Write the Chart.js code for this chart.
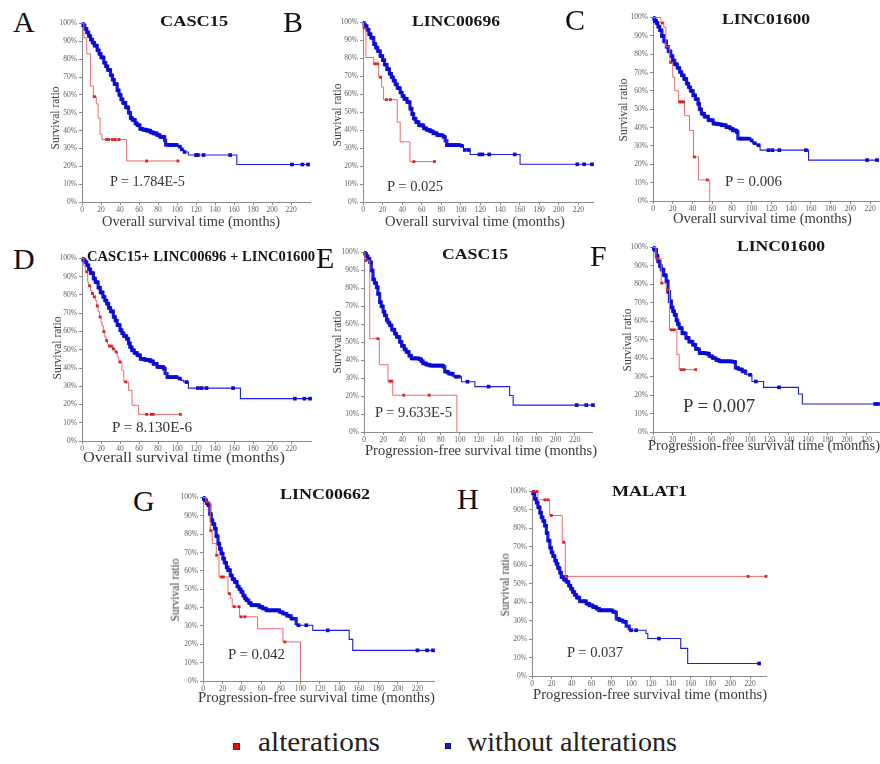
<!DOCTYPE html>
<html><head><meta charset="utf-8">
<script src="https://cdn.jsdelivr.net/npm/chart.js@4.4.0/dist/chart.umd.min.js"></script>
<style>
html,body{margin:0;padding:0;background:#fff;}
#wrap{position:relative;width:880px;height:764px;overflow:hidden;background:#fff;}
canvas{position:absolute;}
.t{position:absolute;white-space:nowrap;line-height:1;font-family:"Liberation Serif","Times New Roman",serif;}
.sq{position:absolute;}
</style></head><body><div id="wrap"></div>
<script>
// ---------------- DATA ----------------
const xTickValues = [0,20,40,60,80,100,120,140,160,180,200,220];
const yTickValues = [0,10,20,30,40,50,60,70,80,90,100];

const panelLetters = ['A','B','C','D','E','F','G','H'];
const geneTitles = ['CASC15','LINC00696','LINC01600','CASC15+ LINC00696 + LINC01600','CASC15','LINC01600','LINC00662','MALAT1'];
const pValues = ['P = 1.784E-5','P = 0.025','P = 0.006','P = 8.130E-6','P = 9.633E-5','P = 0.007','P = 0.042','P = 0.037'];
const xTitles = ['Overall survival time (months)','Overall survival time (months)','Overall survival time (months)','Overall survival time (months)',
  'Progression-free survival time (months)','Progression-free survival time (months)','Progression-free survival time (months)','Progression-free survival time (months)'];
const yTitle = 'Survival ratio';
const legendLabels = ['alterations','without alterations'];

// step points [months, survival %] and censor times (months)
const A_alt = [[2,92],[5,83],[9,65],[12,59],[15,55],[17,47],[19,38],[21,35],[47,23]];
const A_altCens = [13,26,28,32,35,39,68,101];
const A_wo = [[1,99],[3,97],[5,95],[7,93],[9,91],[11,89.3],[13,87.6],[16,85],[18,83],[20,81],[23,78],[25,76],[27,74],[30,71],[32,68.5],[34,66],[37,62.5],[39,60],[41,57.5],[43,55.5],[46,53],[49,50],[51,47],[53,46],[56,44],[58,43],[61,41],[64,40.5],[68,40],[72,39],[75,38.4],[79,37.5],[82,36.5],[87,34.5],[88,32],[100,31],[104,29.5],[107,28],[112,26.3],[163,21]];
const A_woCens = [2,4,6,8,10,12,14,15,17,19,21,22,24,26,28,29,31,33,35,36,38,40,42,44,45,47,48,50,52,54,55,57,59,60,62,63,65,66,67,69,70,71,73,74,76,77,78,80,81,83,85,86,90,92,94,97,99,103,105,108,120,122,128,156,221,232,238];

const B_alt = [[0.5,97],[3,80.5],[11,77],[16,69.5],[19,64],[21,57],[35,44.5],[38,33.5],[48,22.5]];
const B_altCens = [1,12,15,18,24,28,52,73];
const B_wo = [[1,99],[2,98],[4,96],[6,93.5],[8,91.5],[11,88],[13,86],[15,84],[17.7,81.4],[20,79],[22,76.5],[24.5,74],[27,71.5],[29,69.5],[31,67.6],[33,65.5],[35,63.5],[38,61],[40,59],[42,57.5],[45,55.6],[48,52],[50,49],[51.7,46.4],[54,44.5],[57,42.7],[62,41],[65,40.2],[68.7,39.4],[72,38.3],[75.5,37.2],[82,36.3],[84,34],[85.7,31.7],[99,31.3],[102.7,29],[109.5,26.5],[160.5,21]];
const B_woCens = [2,3,5,7,9,10,12,14,16,18,19,21,23,25,26,28,30,32,34,36,37,39,41,43,44,46,47,49,51,53,55,56,58,60,61,63,64,66,67,69,70,72,73,75,77,79,80,83,86,88,90,92,94,96,98,101,104,108,119,122,129,155,219,226,234];

const C_alt = [[8,97],[11,94.5],[13,84],[17,75.5],[20,67.5],[22,60],[26,54],[32,46.5],[37,38.5],[41,24],[46,11.5],[57.5,0]];
const C_altCens = [9.5,18,27,29,31,42,55];
const C_wo = [[1,99],[2,98],[3.4,97],[5,95],[6.8,93],[9,90],[11,87],[13.6,84],[15.5,81.5],[18,79],[20,76.6],[22,74.5],[24.5,72.5],[27,70.3],[29,68.5],[31.5,66.5],[34,64],[36,62],[38,60],[40.7,57.6],[43,55.5],[45.8,53],[47,50],[49,47.6],[52,46],[56,44],[61,42.2],[65,41.8],[69.5,41.3],[74,40.3],[78,39.5],[81,38.5],[84.7,37.7],[86,34],[98,33],[101,31.5],[105,30.4],[108.5,27.7],[157.6,22.3]];
const C_woCens = [2,3,4,6,8,9,10,12,13,15,17,19,20,22,24,26,28,30,32,33,35,37,39,41,42,44,46,48,50,51,53,55,57,59,60,62,64,66,68,70,71,73,75,77,79,81,83,85,88,90,93,96,100,103,107,117,121,128,155,217,227];

const D_alt = [[2,96],[3.5,92.7],[6,87],[7,85],[9,82.5],[10.5,80.8],[12,79],[14,77],[15.5,74],[17,71],[18.5,68],[20,65],[21,63],[22.5,60],[24,57],[25.5,55],[27,53],[28.5,52],[33,50.5],[35,48.8],[37,46],[38.6,43.3],[42,38.8],[44,32.4],[49,27.8],[52.6,19.6],[59.6,14.6]];
const D_altCens = [5,8,11,13,16,19,23,26,29,31,33,36,40,46,68,73,75,103.5];
const D_wo = [[1,99.2],[3,98],[5,96.3],[7,94],[9,92],[12,89],[14,87],[17,84],[19.3,81.4],[22,79],[24,77],[26,75.3],[28,73],[30,71],[33,68],[35,66],[37,63.5],[40,60.7],[42,59],[44,57.5],[47,56],[49,53.5],[50.5,51.5],[52.6,49.7],[55,48.3],[58,47],[61.4,45],[66,44.5],[72,43.7],[75,42.3],[79,40.6],[86,39.7],[87.5,37],[89.5,35],[100,34.2],[104,33.2],[107,32.3],[112,29],[166.7,23.2]];
const D_woCens = [2,4,6,8,10,11,13,15,16,18,20,21,23,25,27,29,31,32,34,36,38,39,41,43,45,46,48,50,51,53,54,56,57,59,60,62,64,65,67,69,70,72,74,76,78,80,82,84,86,91,94,97,99,103,110,122,126,131,159,224,234,240];

const E_alt = [[1,95.5],[6,52],[16,37.5],[25,28.3],[30,20.5],[97,0]];
const E_altCens = [2,14.5,27,29,41.5,68];
const E_wo = [[1,99.3],[2.4,98],[4,96.5],[6,94.5],[7.5,90],[9.4,85],[11,83],[13,80.6],[14.5,77],[16.4,72.3],[18,70],[20,67],[21.6,65],[23.5,62.5],[25,61],[26.8,59.4],[29,57],[32,54.8],[34,53],[37.3,50.2],[39.5,48],[42,46],[44,44.6],[47,42.5],[49.5,41],[58,40.6],[60,39.5],[61.7,38.2],[65,37.5],[68.6,37],[82.6,36.3],[84.3,33.6],[88,32.5],[93,30.8],[101.7,28],[115.7,25.3],[152,20.3],[155.7,15]];
const E_woCens = [1.5,3,5,7,8,10,12,14,15,17,19,21,22,24,26,28,30,31,33,35,36,38,40,41,43,45,46,48,50,52,54,56,58,60,62,64,66,68,70,72,74,76,78,80,82,86,90,92,96,99,108,130,222,232,239];

const F_alt = [[3,94],[8.5,80.7],[13.6,77],[17,55.4],[24.6,42],[27,33.8]];
const F_altCens = [4,9,15,19,22,29,32,44];
const F_wo = [[1,99.3],[1.7,98.7],[3.5,95.5],[5,92.4],[7,90],[8.5,88],[11,85],[13.6,81.6],[15.5,76],[17,70.8],[19,67.5],[20.5,65.5],[22,63.5],[24,60.5],[25.5,58.5],[27,56.3],[30,53.5],[34,51],[37,49],[41,47.3],[44,45],[47.8,42.8],[54.6,42.5],[58,41],[61.4,40],[65,39],[68.3,38.3],[82,38],[85,34.7],[88,34],[92,32.9],[95.6,31],[102,27.4],[114,24.2],[150,20.6],[154,15.2]];
const F_woCens = [1,2.5,4,6,7.5,9.5,10.5,12,14.5,16,18,19.5,21,23,24.5,26,28,29,31,32.5,35,36,38,39.5,42,43,45,46,49,51,53,56,57,60,63,66,67,70,72,74,76,78,80,84,87,90,94,100,106,130,229,232];

const G_alt = [[3,97.6],[7.5,82],[9.5,75],[13.6,68.5],[16.4,56.7],[25.6,47.6],[28,45],[30,40.5],[37.5,35],[56,28.5],[82,21.3],[100,0]];
const G_altCens = [4,8,14,19,21,27,32,37,39,43,84];
const G_wo = [[1,99.3],[1.7,98.5],[3.5,97],[5,95.8],[7,91],[8.5,87.6],[10,85.5],[12,83],[13.5,79],[15.4,74.9],[17,72],[18.5,69.5],[20.5,66.7],[22,64.5],[24,62],[25.6,60.4],[28,57.5],[30,55.5],[32.4,54],[35,51.5],[37,50],[39,48.5],[41,46.5],[43,45],[44.4,44],[47,42.5],[49.5,41.3],[58,40.4],[61,39.5],[64.8,38.5],[78.5,37.6],[82,36.7],[86,35.5],[90.4,34],[95.6,30.4],[112.6,27.6],[150,22.7],[153.6,16.7]];
const G_woCens = [1,2.5,4,6,7.5,9,11,12.5,14,16,18,19.5,21,23,24.5,26,27,29,31,33,34,36,38,40,42,43.5,45,46,48,50,52,54,56,58,60,62,64,66,68,70,72,74,76,78,80,84,88,92,98,106,128,220,230,236];

const H_alt = [[6,95.5],[17.8,87],[30.5,72.5],[33.6,54]];
const H_altCens = [2,5,13,16,19.5,32,35,218,236];
const H_wo = [[1,99],[2.7,96],[4.5,94],[6,91.4],[8,88.5],[9.4,86],[11,84],[12.8,81.5],[14.5,77.5],[16,73.4],[18,69.5],[19.5,67],[21,65],[23,62.5],[24.5,60.8],[26,58.5],[28,56],[29.5,53.6],[32,52.2],[34.6,51],[37,49],[39,47.3],[41,45.5],[43,44],[45,42.5],[48,40.5],[54.7,39.2],[58,38.3],[61.4,37.4],[65,36.5],[68,35.6],[81.5,34.7],[85,31],[88,30.2],[91.6,29.3],[95,27],[98,24.8],[115,23],[116.8,20.3],[150,15],[157,6.8]];
const H_woCens = [1.5,3.5,5,7,8.5,10,12,13.5,15,17,19,20,22,24,25.5,27,29,30.5,31.5,33,36,38,40,42,44,46,47,50,52,54,56,58,60,62,64,66,68,70,72,74,76,78,80,83,87,90,94,100,105,128,229];

// ---------------- LAYOUT (positions / styles) ----------------
const panels = [
  {alt:A_alt, altC:A_altCens, wo:A_wo, woC:A_woCens, left:81.7, top:22.7, bottom:202.3, right:309.7, xmax:240, band:100},
  {alt:B_alt, altC:B_altCens, wo:B_wo, woC:B_woCens, left:362.7, top:21.7, bottom:202.3, right:593, xmax:235, band:102},
  {alt:C_alt, altC:C_altCens, wo:C_wo, woC:C_woCens, left:653.3, top:16.7, bottom:201, right:878.6, xmax:229, band:100},
  {alt:D_alt, altC:D_altCens, wo:D_wo, woC:D_woCens, left:81.7, top:258.3, bottom:440.7, right:310.7, xmax:241, band:100},
  {alt:E_alt, altC:E_altCens, wo:E_wo, woC:E_woCens, left:364.3, top:251.7, bottom:432.3, right:592, xmax:238, band:100},
  {alt:F_alt, altC:F_altCens, wo:F_wo, woC:F_woCens, left:653.3, top:247.3, bottom:432.3, right:879.3, xmax:233, band:100},
  {alt:G_alt, altC:G_altCens, wo:G_wo, woC:G_woCens, left:203.3, top:497.3, bottom:680.7, right:434.4, xmax:237, band:98},
  {alt:H_alt, altC:H_altCens, wo:H_wo, woC:H_woCens, left:532.3, top:490.7, bottom:676, right:766, xmax:236, band:100}
];
// text placement: [x, baseline, size, width]
const letterPos = [[13,32],[283,32],[565,30],[13,269],[316,268],[590,266],[133,511],[457,509]];
const titlePos = [[160,27,15,68],[412,27,15,88],[722,25,15,88],[87,262,14,228],[442,260,15,66],[737,252,15,88],[280,500,15,90],[612,497,15,75]];
const pPos = [[110,187,15,75],[387,192,15,56],[725,187,15,57],[112,433,15,80],[375,418,15,77],[683,412,19,72],[228,660,15,57],[567,658,15,56]];
const xtPos = [[102,227,14,178],[385,227,14,180],[673,224,14,179],[83,463,14,202],[365,456,14,232],[648,451,14,232],[198,703,14,237],[533,700,14,234]];
const ytPos = [[55,118],[337,115],[623,110],[57,348],[337,342],[627,340],[175,590],[505,585]];

const BLUE_LINE = '#1c1ce8', BLUE_PT = '#0a0ad2', RED_LINE = '#ee6a6a', RED_PT = '#dc2020';
const wrap = document.getElementById('wrap');

function levelAt(steps, t){ let s = 100; for (const [st, sv] of steps) { if (st <= t) s = sv; } return s; }
function curve(steps, cens){
  const end = Math.max(steps[steps.length-1][0], ...cens);
  const pts = [{x:0, y:100}];
  steps.forEach(([t,s]) => pts.push({x:t, y:s}));
  pts.push({x:end, y:steps[steps.length-1][1]});
  return pts;
}
function marks(steps, cens){ return cens.map(t => ({x:t, y:levelAt(steps, t)})); }

const YW = 30, XH = 14, PT = 6, PR = 4;
panels.forEach((p) => {
  const c = document.createElement('canvas');
  const cl = Math.round(p.left - YW), ct = Math.round(p.top - PT);
  const cw = Math.round(p.right) - cl + PR;
  const ch = Math.round(p.bottom) + XH - ct;
  c.width = cw; c.height = ch;
  c.style.left = cl + 'px'; c.style.top = ct + 'px';
  c.style.width = cw + 'px'; c.style.height = ch + 'px';
  wrap.appendChild(c);
  const tickFont = {family:'"Liberation Serif", serif', size:7.5};
  new Chart(c.getContext('2d'), {
    type:'scatter',
    data:{datasets:[
      {data:curve(p.wo,p.woC), showLine:true, stepped:true, borderColor:BLUE_LINE, borderWidth:1.1, pointRadius:0, clip:false, order:4,
        segment:{borderWidth: ctx => (ctx.p1.parsed.x <= p.band ? 3.2 : 1.1)}},
      {data:marks(p.wo,p.woC), showLine:false, pointStyle:'rect', pointRadius:2.6, backgroundColor:BLUE_PT, borderWidth:0, clip:false, order:3},
      {data:curve(p.alt,p.altC), showLine:true, stepped:true, borderColor:RED_LINE, borderWidth:1, pointRadius:0, clip:false, order:2},
      {data:marks(p.alt,p.altC), showLine:false, pointStyle:'rect', pointRadius:2, backgroundColor:RED_PT, borderWidth:0, clip:false, order:1}
    ]},
    options:{
      responsive:false, animation:false, events:[],
      plugins:{legend:{display:false}, tooltip:{enabled:false}},
      layout:{autoPadding:false, padding:{top:PT, right:PR, left:0, bottom:0}},
      scales:{
        x:{type:'linear', min:0, max:p.xmax,
          afterBuildTicks:s=>{ s.ticks = xTickValues.map(v=>({value:v})); },
          afterFit:s=>{ s.height = XH; },
          grid:{drawOnChartArea:false, drawTicks:true, tickLength:3, color:'#8a8a8a'},
          border:{color:'#8a8a8a', width:1},
          ticks:{font:tickFont, color:'#606060', padding:1, maxRotation:0, autoSkip:false}},
        y:{type:'linear', min:0, max:100,
          afterBuildTicks:s=>{ s.ticks = yTickValues.map(v=>({value:v})); },
          afterFit:s=>{ s.width = YW; },
          grid:{drawOnChartArea:false, drawTicks:true, tickLength:3, color:'#8a8a8a'},
          border:{color:'#8a8a8a', width:1},
          ticks:{font:tickFont, color:'#606060', padding:2, autoSkip:false, callback:v=>v+'%'}}
      }
    }
  });
});

function placeText(txt, x, base, size, w, bold, color){
  const d = document.createElement('div');
  d.className = 't'; d.textContent = txt;
  d.style.fontSize = size + 'px';
  d.style.fontWeight = bold ? 'bold' : 'normal';
  d.style.color = color;
  d.style.left = x + 'px';
  d.style.top = (base - 0.8375*size) + 'px';
  wrap.appendChild(d);
  if (w) {
    const m = d.getBoundingClientRect().width;
    d.style.transformOrigin = '0 0';
    d.style.transform = 'scaleX(' + (w/m).toFixed(3) + ')';
  }
}
function placeVText(txt, cx, cy, size, len, color){
  const d = document.createElement('div');
  d.className = 't'; d.textContent = txt;
  d.style.fontSize = size + 'px'; d.style.color = color;
  d.style.left = cx + 'px'; d.style.top = cy + 'px';
  wrap.appendChild(d);
  const m = d.getBoundingClientRect().width;
  d.style.transform = 'translate(-50%,-50%) rotate(-90deg) scaleX(' + (len/m).toFixed(3) + ')';
}

panelLetters.forEach((L,i) => placeText(L, letterPos[i][0], letterPos[i][1], 30, 0, false, '#111'));
geneTitles.forEach((t,i) => placeText(t, titlePos[i][0], titlePos[i][1], titlePos[i][2], titlePos[i][3], true, '#151515'));
pValues.forEach((t,i) => placeText(t, pPos[i][0], pPos[i][1], pPos[i][2], pPos[i][3], false, '#333'));
xTitles.forEach((t,i) => placeText(t, xtPos[i][0], xtPos[i][1], xtPos[i][2], xtPos[i][3], false, '#3a3a3a'));
ytPos.forEach(([cx,cy]) => placeVText(yTitle, cx, cy, 12.5, 63, '#3a3a3a'));

// legend
function sq(x, y, s, fill, border){
  const d = document.createElement('div'); d.className = 'sq';
  d.style.left = x+'px'; d.style.top = y+'px'; d.style.width = s+'px'; d.style.height = s+'px';
  d.style.background = fill; d.style.boxSizing = 'border-box'; d.style.border = '1px solid ' + border;
  wrap.appendChild(d);
}
sq(233, 743, 7, '#e01010', '#901010');
sq(445, 743, 6, '#1414d8', '#0a0a90');
placeText(legendLabels[0], 258, 752, 27, 122, false, '#222');
placeText(legendLabels[1], 467, 752, 27, 210, false, '#222');
</script></body></html>
